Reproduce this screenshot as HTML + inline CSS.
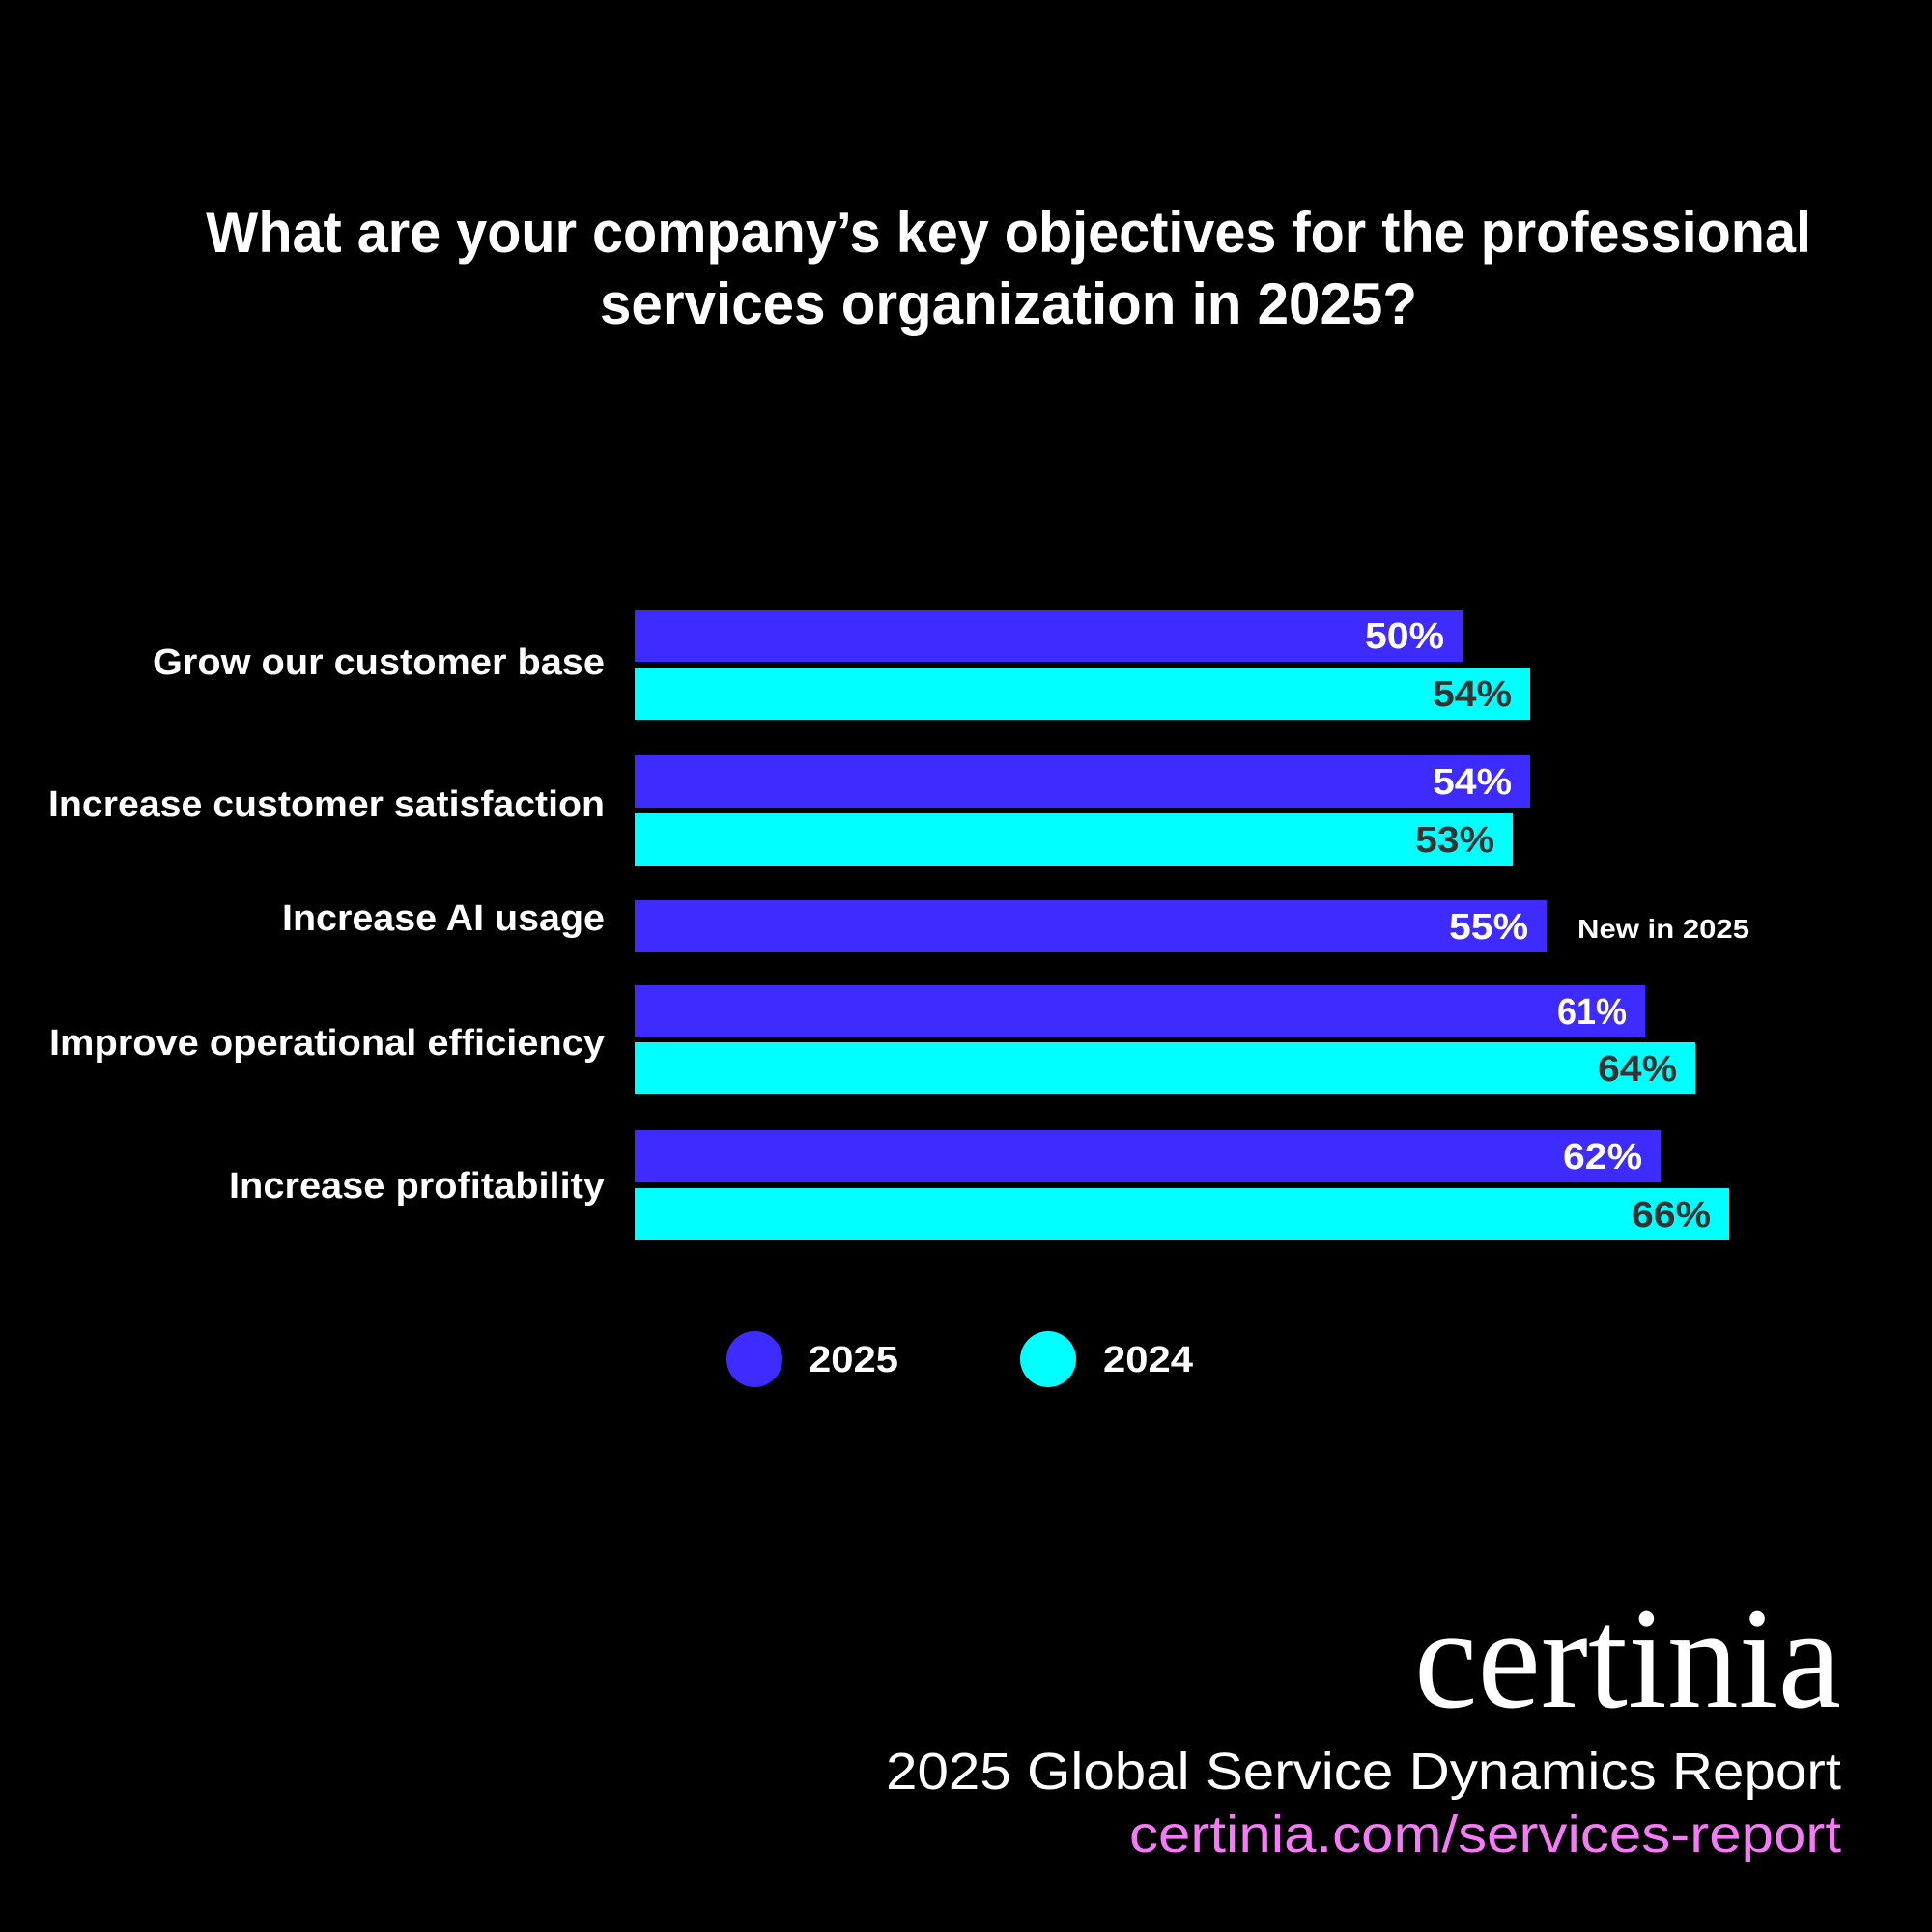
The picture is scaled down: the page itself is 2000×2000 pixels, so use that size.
<!DOCTYPE html>
<html><head><meta charset="utf-8"><style>
html,body{margin:0;padding:0;background:#000;}
svg{display:block;}
text{font-family:"Liberation Sans",sans-serif;}
</style></head><body>
<svg width="2000" height="2000" viewBox="0 0 2000 2000" xmlns="http://www.w3.org/2000/svg">
<rect width="2000" height="2000" fill="#000"/>
<g fill="#fff" font-weight="bold" font-size="60">
<text x="213" y="261" textLength="1662" lengthAdjust="spacingAndGlyphs">What are your company’s key objectives for the professional</text>
<text x="621" y="335" textLength="846" lengthAdjust="spacingAndGlyphs">services organization in 2025?</text>
</g>
<g fill="#fff" font-weight="bold" font-size="38" text-anchor="end">
<text x="626" y="698" textLength="468" lengthAdjust="spacingAndGlyphs">Grow our customer base</text>
<text x="626" y="845" textLength="576" lengthAdjust="spacingAndGlyphs">Increase customer satisfaction</text>
<text x="626" y="963" textLength="334" lengthAdjust="spacingAndGlyphs">Increase AI usage</text>
<text x="626" y="1092" textLength="575" lengthAdjust="spacingAndGlyphs">Improve operational efficiency</text>
<text x="626" y="1240" textLength="389" lengthAdjust="spacingAndGlyphs">Increase profitability</text>
</g>
<g>
<rect x="657" y="631" width="857" height="54" fill="#3d2bff"/>
<rect x="657" y="691" width="927" height="54" fill="#00ffff"/>
<rect x="657" y="782" width="927" height="54" fill="#3d2bff"/>
<rect x="657" y="842" width="909" height="54" fill="#00ffff"/>
<rect x="657" y="932" width="944" height="54" fill="#3d2bff"/>
<rect x="657" y="1020" width="1046" height="54" fill="#3d2bff"/>
<rect x="657" y="1079" width="1098" height="54" fill="#00ffff"/>
<rect x="657" y="1170" width="1062" height="54" fill="#3d2bff"/>
<rect x="657" y="1230" width="1133" height="54" fill="#00ffff"/>
</g>
<g font-weight="bold" font-size="38" text-anchor="end">
<text x="1495" y="671" fill="#fff" textLength="82" lengthAdjust="spacingAndGlyphs">50%</text>
<text x="1565" y="731" fill="#333" textLength="82" lengthAdjust="spacingAndGlyphs">54%</text>
<text x="1565" y="822" fill="#fff" textLength="82" lengthAdjust="spacingAndGlyphs">54%</text>
<text x="1547" y="882" fill="#333" textLength="82" lengthAdjust="spacingAndGlyphs">53%</text>
<text x="1582" y="972" fill="#fff" textLength="82" lengthAdjust="spacingAndGlyphs">55%</text>
<text x="1684" y="1060" fill="#fff" textLength="72" lengthAdjust="spacingAndGlyphs">61%</text>
<text x="1736" y="1119" fill="#333" textLength="82" lengthAdjust="spacingAndGlyphs">64%</text>
<text x="1700" y="1210" fill="#fff" textLength="82" lengthAdjust="spacingAndGlyphs">62%</text>
<text x="1771" y="1270" fill="#333" textLength="82" lengthAdjust="spacingAndGlyphs">66%</text>
</g>
<text x="1633" y="971" fill="#fff" font-weight="bold" font-size="28" textLength="178" lengthAdjust="spacingAndGlyphs">New in 2025</text>
<circle cx="781" cy="1407" r="29" fill="#3d2bff"/>
<text x="837" y="1420" fill="#fff" font-weight="bold" font-size="38" textLength="93" lengthAdjust="spacingAndGlyphs">2025</text>
<circle cx="1085" cy="1407" r="29" fill="#00ffff"/>
<text x="1142" y="1420" fill="#fff" font-weight="bold" font-size="38" textLength="93" lengthAdjust="spacingAndGlyphs">2024</text>
<text x="1464" y="1767" fill="#fff" font-size="150" style="font-family:'Liberation Serif',serif" textLength="442" lengthAdjust="spacingAndGlyphs">certinia</text>
<text x="917" y="1852" fill="#fff" font-size="54" textLength="989" lengthAdjust="spacingAndGlyphs">2025 Global Service Dynamics Report</text>
<text x="1169" y="1917" fill="#f57af5" font-size="54" textLength="737" lengthAdjust="spacingAndGlyphs">certinia.com/services-report</text>
</svg>
</body></html>
